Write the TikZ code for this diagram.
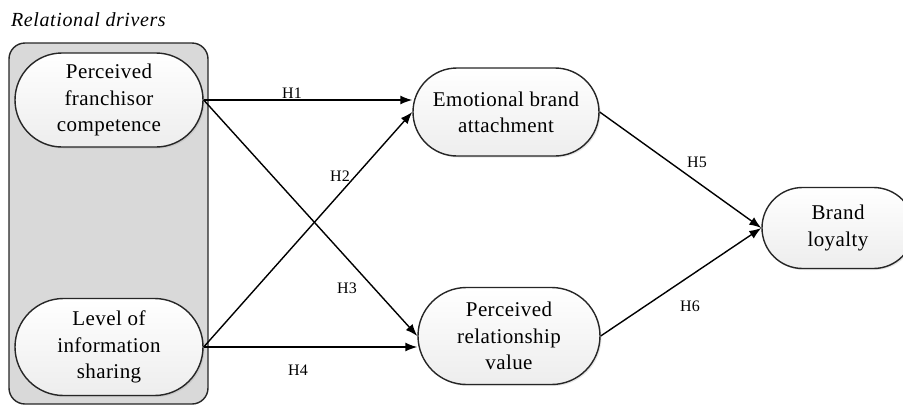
\documentclass[tikz,border=0pt]{standalone}
\usepackage{fontspec}
\setmainfont{Liberation Serif}
\usetikzlibrary{shapes.misc,arrows.meta,shadows}

\begin{document}
\begin{tikzpicture}[x=1pt, y=-1pt,
  construct/.style={rounded rectangle, draw=black!85, line width=1.4pt,
    top color=white, bottom color=black!7, align=center, inner sep=0pt,
    drop shadow={shadow xshift=1.5pt, shadow yshift=-1.5pt, opacity=.2},
    font=\fontsize{21}{26.3}\selectfont\addfontfeature{LetterSpace=2}},
  hyp/.style={-{Latex[length=12pt,width=9pt]}, line width=1.4pt},
  hlabel/.style={font=\fontsize{16}{18}\selectfont, inner sep=0pt}]

\useasboundingbox (0,0) rectangle (903,408);

% group of relational drivers
\node [anchor=base west, inner sep=0pt,
  font=\fontsize{20}{24}\selectfont\itshape\addfontfeature{LetterSpace=3}]
  (title) at (11,26) {Relational drivers};
\node [draw=black!85, line width=1.4pt, fill=black!15, rounded corners=16pt,
  minimum width=199pt, minimum height=361pt] (drivers) at (108.5,223.5) {};

% constructs
\node [construct, minimum width=188pt, minimum height=94pt] (pfc) at (109,100)
  {Perceived\\franchisor\\competence};
\node [construct, minimum width=188pt, minimum height=97pt] (lis) at (109,347)
  {Level of\\information\\sharing};
\node [construct, minimum width=186pt, minimum height=88pt] (eba) at (506,112)
  {Emotional brand\\attachment};
\node [construct, minimum width=182pt, minimum height=97pt] (prv) at (509,336)
  {Perceived\\relationship\\value};
\node [construct, minimum width=152pt, minimum height=81pt] (bl) at (838,228)
  {Brand\\loyalty};

% hypotheses
\draw [hyp] (pfc.east) -- (pfc.east -| eba.west);
\draw [hyp] (lis.east) -- (eba.west);
\draw [hyp] (pfc.east) -- (prv.west);
\draw [hyp] (lis.east) -- (lis.east -| prv.west);
\draw [hyp] (eba.east) -- (bl.west);
\draw [hyp] (prv.east) -- (bl.west);

\node [hlabel] (h1) at (292,93) {H1};
\node [hlabel] (h2) at (340,176) {H2};
\node [hlabel] (h3) at (347,288) {H3};
\node [hlabel] (h4) at (298,370) {H4};
\node [hlabel] (h5) at (697,162) {H5};
\node [hlabel] (h6) at (690,306) {H6};

\end{tikzpicture}
\end{document}
